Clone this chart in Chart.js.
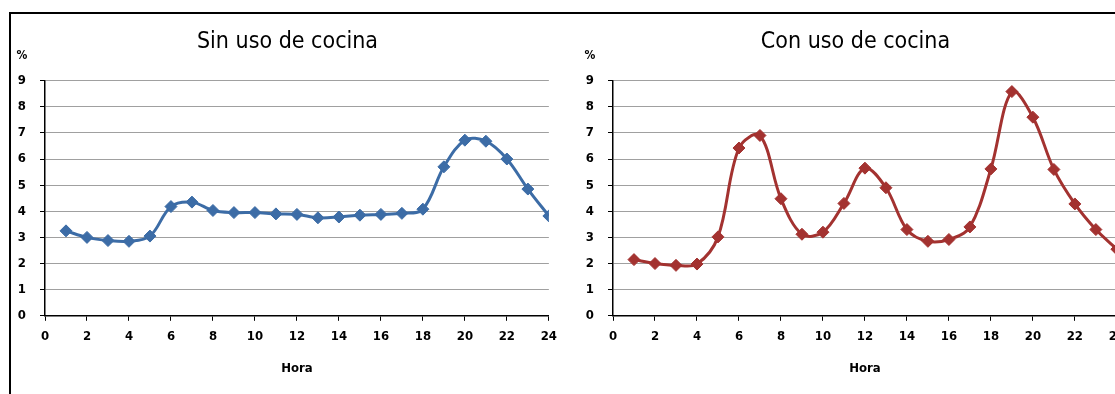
<!DOCTYPE html>
<html>
<head>
<meta charset="utf-8">
<script src="https://cdn.jsdelivr.net/npm/chart.js@4/dist/chart.umd.min.js"></script>
<style>
  html, body { margin: 0; padding: 0; background: #fff; overflow: hidden; }
  body { width: 1115px; height: 394px; position: relative; }
  #frame { position: absolute; left: 9px; top: 12px; right: -10px; bottom: -10px;
           border-top: 2px solid #000; border-left: 2px solid #000; }
  .box { position: absolute; top: 14px; width: 555px; height: 380px; }
  #left { left: 10px; }
  #right { left: 578px; }
</style>
</head>
<body>
<div id="frame"></div>
<div class="box" id="left"><canvas id="sin-chart"></canvas></div>
<div class="box" id="right"><canvas id="con-chart"></canvas></div>
<script>
// hours of the day (x values)
const hours = [1, 2, 3, 4, 5, 6, 7, 8, 9, 10, 11, 12, 13, 14, 15, 16, 17, 18, 19, 20, 21, 22, 23, 24];

// % of daily consumption per hour
const sinUsoCocina = [3.25, 3.0, 2.88, 2.85, 3.05, 4.18, 4.35, 4.03, 3.95, 3.95, 3.9, 3.88,
                      3.75, 3.78, 3.85, 3.88, 3.92, 4.08, 5.7, 6.72, 6.68, 6.0, 4.85, 3.82];
const conUsoCocina = [2.15, 2.0, 1.93, 1.98, 3.02, 6.42, 6.9, 4.48, 3.12, 3.2, 4.3, 5.65,
                      4.9, 3.3, 2.85, 2.92, 3.4, 5.62, 8.58, 7.6, 5.6, 4.28, 3.3, 2.55];

const titles = ['Sin uso de cocina', 'Con uso de cocina'];
const xTitle = 'Hora';
const yUnit = '%';

const FONT = "'DejaVu Sans Condensed', 'Liberation Sans', sans-serif";

// draws the little "%" above the y axis
const unitLabel = {
    id: 'unitLabel',
    afterDraw(chart) {
        const ctx = chart.ctx;
        const area = chart.chartArea;
        ctx.save();
        ctx.font = 'bold 12px ' + FONT;
        ctx.fillStyle = '#000';
        ctx.textAlign = 'center';
        ctx.textBaseline = 'middle';
        ctx.fillText(yUnit, area.left - 23, area.top - 25);
        ctx.restore();
    }
};

function makeChart(canvas, title, values, color) {
    return new Chart(canvas.getContext('2d'), {
        type: 'line',
        data: {
            datasets: [{
                data: hours.map((h, i) => ({ x: h, y: values[i] })),
                borderColor: color,
                backgroundColor: color,
                borderWidth: 3,
                tension: 0.35,
                pointStyle: 'rectRot',
                pointRadius: 6,
                pointBorderWidth: 1,
                pointBorderColor: color,
                pointBackgroundColor: color
            }]
        },
        options: {
            responsive: true,
            maintainAspectRatio: false,
            animation: false,
            layout: { padding: { top: 0, right: 0, bottom: 18, left: 0 } },
            plugins: {
                legend: { display: false },
                tooltip: { enabled: false },
                title: {
                    display: true,
                    text: title,
                    color: '#000',
                    font: { family: FONT, size: 23, weight: 'normal' },
                    padding: { top: 14, bottom: 25 }
                }
            },
            scales: {
                x: {
                    type: 'linear',
                    min: 0,
                    max: 24,
                    ticks: { stepSize: 2, color: '#000', padding: 8, maxRotation: 0,
                             font: { family: FONT, size: 13, weight: 'bold' } },
                    grid: { drawOnChartArea: false, drawTicks: true, tickLength: 5, tickColor: '#000' },
                    border: { color: '#000', width: 1.5 },
                    title: { display: true, text: xTitle, color: '#000', padding: { top: 8, bottom: 0 },
                             font: { family: FONT, size: 13, weight: 'bold' } }
                },
                y: {
                    min: 0,
                    max: 9,
                    ticks: { stepSize: 1, color: '#000', padding: 14,
                             font: { family: FONT, size: 13, weight: 'bold' } },
                    grid: { color: '#a0a0a0', lineWidth: 1, tickLength: 5, tickColor: '#000' },
                    border: { color: '#000', width: 1.5 },
                    afterFit(scale) { scale.width = 35; }
                }
            }
        },
        plugins: [unitLabel]
    });
}

makeChart(document.querySelector('#sin-chart'), titles[0], sinUsoCocina, '#3c6ca6');
makeChart(document.querySelector('#con-chart'), titles[1], conUsoCocina, '#a33230');
</script>
</body>
</html>
